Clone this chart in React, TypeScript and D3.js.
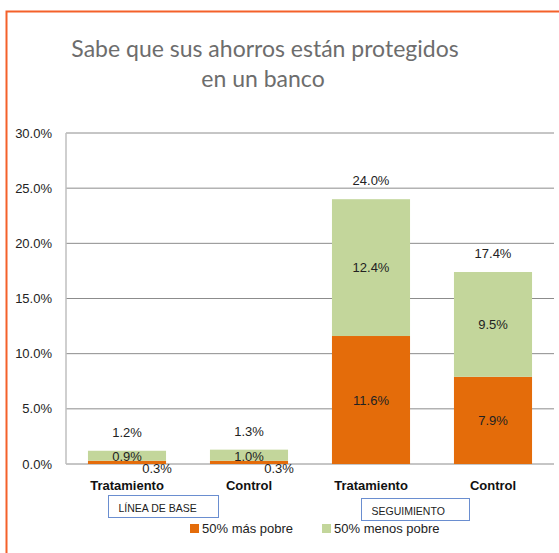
import React, { useEffect, useRef } from 'react';
import * as d3 from 'd3';

const categories = ['Tratamiento', 'Control', 'Tratamiento ', 'Control '];
const masPobre = [0.3, 0.3, 11.6, 7.9];
const menosPobre = [0.9, 1.0, 12.4, 9.5];
const totals = [1.2, 1.3, 24.0, 17.4];
const yTicks = [0, 5, 10, 15, 20, 25, 30];
const seriesNames = ['50% más pobre', '50% menos pobre'];
const groups = ['LÍNEA DE BASE', 'SEGUIMIENTO'];

const ORANGE = '#E46C0A';
const GREEN = '#C3D69B';
const FONT = '"Liberation Sans", Arial, sans-serif';

export default function App() {
  const ref = useRef<SVGSVGElement>(null);

  useEffect(() => {
    const svg = d3.select(ref.current);
    svg.selectAll('*').remove();

    const width = 559, height = 553;
    const left = 66, right = 554, top = 133, bottom = 464;

    svg.append('rect').attr('width', width).attr('height', height).attr('fill', '#fff');
    // orange frame
    svg.append('path')
      .attr('d', `M6.5,${height + 5}V11.5H${width + 5}`)
      .attr('fill', 'none').attr('stroke', '#F4612A').attr('stroke-width', 2);

    svg.append('text').attr('x', 265).attr('y', 57).attr('text-anchor', 'middle')
      .attr('font-family', 'Lato, sans-serif').attr('font-size', 23).attr('fill', '#6d6d6d')
      .text('Sabe que sus ahorros están protegidos');
    svg.append('text').attr('x', 263).attr('y', 87).attr('text-anchor', 'middle')
      .attr('font-family', 'Lato, sans-serif').attr('font-size', 23).attr('fill', '#6d6d6d')
      .text('en un banco');

    const x = d3.scaleBand().domain(categories).range([left, right]).paddingInner(0.36).paddingOuter(0.18);
    const y = d3.scaleLinear().domain([0, 30]).range([bottom, top]);

    const grid = svg.append('g');
    grid.selectAll('line').data(yTicks).enter().append('line')
      .attr('x1', left).attr('x2', right)
      .attr('y1', d => y(d)).attr('y2', d => y(d))
      .attr('stroke', '#8c8c8c').attr('stroke-width', 1);
    svg.append('line').attr('x1', left).attr('x2', left).attr('y1', top).attr('y2', bottom)
      .attr('stroke', '#bfbfbf').attr('stroke-width', 1.5);

    svg.append('g').selectAll('text').data(yTicks).enter().append('text')
      .attr('x', 52).attr('y', d => y(d) + 4.5).attr('text-anchor', 'end')
      .attr('font-family', FONT).attr('font-size', 13).attr('fill', '#222')
      .text(d => d.toFixed(1) + '%');

    const rows = categories.map((c, i) => ({ cat: c, mas: masPobre[i], menos: menosPobre[i] }));
    const stacked = d3.stack<any>().keys(['mas', 'menos'])(rows);
    const colors = [ORANGE, GREEN];

    stacked.forEach((layer, li) => {
      svg.append('g').selectAll('rect').data(layer).enter().append('rect')
        .attr('x', d => x(d.data.cat)!)
        .attr('width', x.bandwidth())
        .attr('y', d => y(d[1]))
        .attr('height', d => y(d[0]) - y(d[1]))
        .attr('fill', colors[li]);
    });

    const lbl = svg.append('g').attr('font-family', FONT).attr('font-size', 13).attr('fill', '#222');
    rows.forEach((r, i) => {
      const cx = x(r.cat)! + x.bandwidth() / 2;
      const small = r.mas < 1;
      // orange segment
      if (small) {
        lbl.append('text').attr('x', x(r.cat)! + x.bandwidth() - 9).attr('y', y(0) + 9)
          .attr('text-anchor', 'middle').text(r.mas.toFixed(1) + '%');
      } else {
        lbl.append('text').attr('x', cx).attr('y', y(r.mas / 2) + 4.5)
          .attr('text-anchor', 'middle').text(r.mas.toFixed(1) + '%');
      }
      // green segment
      lbl.append('text').attr('x', cx).attr('y', y(r.mas + r.menos / 2) + 4.5 + (small ? 1 : 0))
        .attr('text-anchor', 'middle').text(r.menos.toFixed(1) + '%');
      // total
      lbl.append('text').attr('x', cx).attr('y', y(totals[i]) - 14)
        .attr('text-anchor', 'middle').text(totals[i].toFixed(1) + '%');
    });

    svg.append('g').selectAll('text').data(categories).enter().append('text')
      .attr('x', d => x(d)! + x.bandwidth() / 2).attr('y', 490)
      .attr('text-anchor', 'middle').attr('font-family', FONT).attr('font-size', 13)
      .attr('font-weight', 'bold').attr('fill', '#111').text(d => d.trim());

    // group boxes
    const boxes = [
      { label: groups[0], x: 108.5, y: 495.5, w: 110, h: 22 },
      { label: groups[1], x: 361.5, y: 498.5, w: 108, h: 22 },
    ];
    boxes.forEach(b => {
      svg.append('rect').attr('x', b.x).attr('y', b.y).attr('width', b.w).attr('height', b.h)
        .attr('fill', '#fff').attr('stroke', '#6a8ed0').attr('stroke-width', 1);
      svg.append('text').attr('x', b.x + 10).attr('y', b.y + 16)
        .attr('font-family', FONT).attr('font-size', 10.5).attr('fill', '#222').text(b.label);
    });

    // legend
    const legendX = [190, 322];
    seriesNames.forEach((n, i) => {
      svg.append('rect').attr('x', legendX[i]).attr('y', 524).attr('width', 9).attr('height', 9)
        .attr('fill', colors[i]);
      svg.append('text').attr('x', legendX[i] + 12).attr('y', 533)
        .attr('font-family', FONT).attr('font-size', 13).attr('fill', '#222').text(n);
    });
  }, []);

  return <svg ref={ref} width={559} height={553} style={{ display: 'block', position: 'absolute', left: 0, top: 0 }} />;
}
